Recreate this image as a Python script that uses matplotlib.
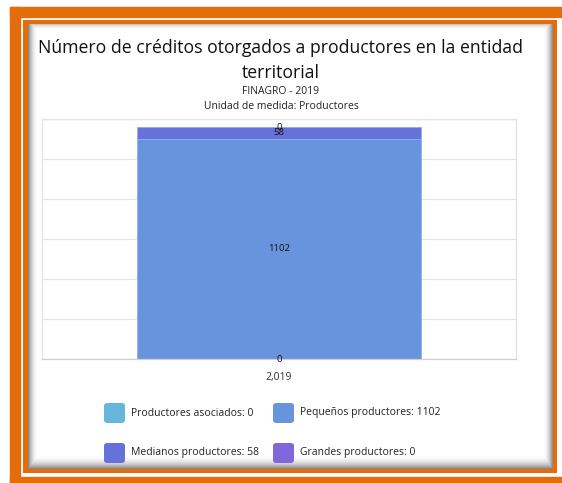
import numpy as np
import matplotlib
matplotlib.use("Agg")
import matplotlib.pyplot as plt
from matplotlib.patches import Rectangle, FancyBboxPatch

# ---- data ----
categories = ["2,019"]
series_names = ["Productores asociados", "Pequeños productores",
                "Medianos productores", "Grandes productores"]
series_values = [0, 1102, 58, 0]
series_colors = ["#67b7dc", "#6794dc", "#6771dc", "#8067dc"]
title = "Número de créditos otorgados a productores en la entidad\nterritorial"
subtitle1 = "FINAGRO - 2019"
subtitle2 = "Unidad de medida: Productores"
y_max = 1200
y_step = 200

W, H = 562, 483
plt.rcParams['font.family'] = ['Open Sans', 'DejaVu Sans']
fig = plt.figure(figsize=(W / 100, H / 100), dpi=100)
fig.patch.set_facecolor("white")

def fx(x):
    return x / W

def fy(y):
    return 1 - y / H

orange = "#e46c0a"
# thick outer frame (left, top, bottom)
fig.patches.append(Rectangle((fx(10), fy(483)), fx(10), 476 / H, transform=fig.transFigure, color=orange, zorder=0))
fig.patches.append(Rectangle((fx(10), fy(17)), 1, 10 / H, transform=fig.transFigure, color=orange, zorder=0))
fig.patches.append(Rectangle((fx(10), fy(483)), 1, 6 / H, transform=fig.transFigure, color=orange, zorder=0))
# thin inner frame
fig.patches.append(Rectangle((fx(23), fy(473)), fx(534), 453 / H, transform=fig.transFigure,
                             facecolor=orange, edgecolor="none", zorder=0))

# content with inner shadow
x0, x1, y0, y1 = 28, 553, 24, 469
bg = fig.add_axes([fx(x0), fy(y1), fx(x1 - x0), (y1 - y0) / H], zorder=0.5)
w, h = x1 - x0, y1 - y0
xx = np.arange(w)[None, :] + 0.5
yy = np.arange(h)[:, None] + 0.5
shade = np.zeros((h, w))
shade = np.maximum(shade, np.clip(1 - xx / 10, 0, 1) ** 2 * 0.5)
shade = np.maximum(shade, np.clip(1 - (w - xx) / 10, 0, 1) ** 2 * 0.5)
shade = np.maximum(shade, np.clip(1 - (h - yy) / 14, 0, 1) ** 2 * 0.5)
shade = np.maximum(shade, np.clip(1 - yy / 6, 0, 1) ** 2 * 0.25)
img = 1 - shade
bg.imshow(img, cmap="gray", vmin=0, vmax=1, aspect="auto", interpolation="bilinear")
bg.set_axis_off()

# titles
fig.text(0.5, fy(48), title.split("\n")[0], ha="center", va="center", fontsize=12.7, color="#111111", zorder=5)
fig.text(0.5, fy(73), title.split("\n")[1], ha="center", va="center", fontsize=12.7, color="#111111", zorder=5)
fig.text(0.5, fy(92), subtitle1, ha="center", va="center", fontsize=7.5, color="#222222", zorder=5)
fig.text(0.5, fy(107), subtitle2, ha="center", va="center", fontsize=7.5, color="#222222", zorder=5)

# main axes
ax = fig.add_axes([fx(42), fy(359), fx(516 - 42), (359 - 119) / H], zorder=2)
ax.set_facecolor("white")
ax.set_xlim(-0.5, 0.5)
ax.set_ylim(0, y_max)
ax.set_yticks(np.arange(0, y_max + 1, y_step))
ax.yaxis.grid(True, color="#e3e3e3", linewidth=0.9)
ax.set_axisbelow(True)
ax.tick_params(axis="y", left=False, labelleft=False)
ax.tick_params(axis="x", bottom=False, labelsize=7.5, labelcolor="#333333", pad=6)
for s in ax.spines.values():
    s.set_color("#e3e3e3")
    s.set_linewidth(0.9)
ax.spines["bottom"].set_color("#d0d0d0")

xpos = np.arange(len(categories))
bottom = np.zeros(len(categories))
for name, val, col in zip(series_names, series_values, series_colors):
    bars = ax.bar(xpos, [val], bottom=bottom, width=0.6, color=col,
                  edgecolor="#8fb0ec", linewidth=0.6)
    ax.bar_label(bars, labels=[str(val)], label_type="center", fontsize=6.8, color="#111111")
    bottom = bottom + val
ax.set_xticks(xpos)
ax.set_xticklabels(categories)

# legend (manual 2x2)
leg_pos = [(104, 413), (273, 413), (104, 453), (273, 453)]
for (lx, ly), name, val, col in zip(leg_pos, series_names, series_values, series_colors):
    fig.patches.append(FancyBboxPatch((fx(lx), fy(ly + 10)), fx(21), 20 / H,
                                      boxstyle="round,pad=0,rounding_size=0.006",
                                      transform=fig.transFigure, facecolor=col,
                                      edgecolor="none", zorder=5))
    fig.text(fx(lx + 27), fy(ly), f"{name}: {val}", ha="left", va="center",
             fontsize=7.5, color="#222222", zorder=5)

fig.savefig("out.png", dpi=100)
